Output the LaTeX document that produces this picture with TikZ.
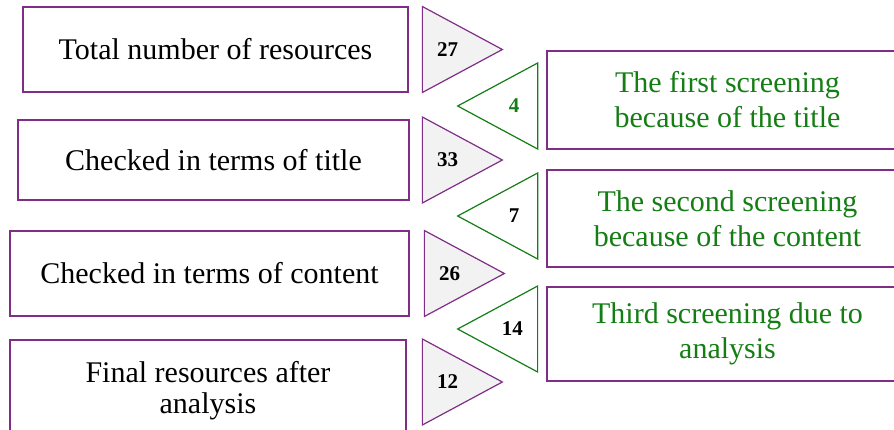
\documentclass[tikz,border=0pt]{standalone}
\usepackage{fontspec}
\setmainfont{Liberation Serif}
\usetikzlibrary{shapes.geometric,positioning}
\definecolor{boxpurple}{RGB}{128,45,135}
\definecolor{scrgreen}{RGB}{20,125,20}
\definecolor{trigray}{RGB}{242,242,242}

\begin{document}
\begin{tikzpicture}[
  x=1pt, y=-1pt,
  box/.style={rectangle, draw=boxpurple, line width=1.5pt, inner sep=2pt, align=center},
  leftbox/.style={box, text=black, font=\fontsize{30}{31}\selectfont},
  scrbox/.style={box, text=scrgreen, minimum width=361pt, font=\fontsize{30}{35}\selectfont},
  tri/.style={isosceles triangle, isosceles triangle stretches, inner sep=0pt, line width=1.2pt,
    minimum width=86pt, minimum height=80pt, font=\fontsize{21}{21}\selectfont\bfseries},
  keep/.style={tri, draw=boxpurple, fill=trigray},
  drop/.style={tri, draw=scrgreen, fill=white, shape border rotate=180}
]
  \useasboundingbox (0,0) rectangle (894,430);
  \clip (0,0) rectangle (894,430);

  % Left column: resources left after each step
  \node[leftbox, minimum width=385pt, minimum height=85pt] (total) at (215.5,49.5) {Total number of resources};
  \node[leftbox, minimum width=391pt, minimum height=80pt] (titl) at (213.5,160) {Checked in terms of title};
  \node[leftbox, minimum width=399pt, minimum height=85pt] (cont) at (209.5,273.5) {Checked in terms of content};
  \node[leftbox, minimum width=396pt, minimum height=102pt] (fin) at (208,391) {Final resources after\\analysis};

  % counts pointing right
  \node[keep, right=13pt of total] (n27) {27};
  \node[keep, right=12pt of titl] (n33) {33};
  \node[keep, right=14pt of cont] (n26) {26};
  \node[keep, right=15pt of fin, yshift=9pt] (n12) {12};

  % Right column: screening steps
  \node[scrbox, minimum height=98pt] (scr1) at (727.5,100) {The first screening\\because of the title};
  \node[scrbox, minimum height=97pt] (scr2) at (727.5,218.5) {The second screening\\because of the content};
  \node[scrbox, minimum height=94pt] (scr3) at (727.5,334) {Third screening due to\\analysis};

  % removed counts pointing left
  \node[drop, text=scrgreen, left=8pt of scr1, yshift=-6pt] (r4) {4};
  \node[drop, left=8pt of scr2, yshift=2.5pt] (r7) {7};
  \node[drop, left=8pt of scr3, yshift=5pt] (r14) {14};
\end{tikzpicture}
\end{document}
